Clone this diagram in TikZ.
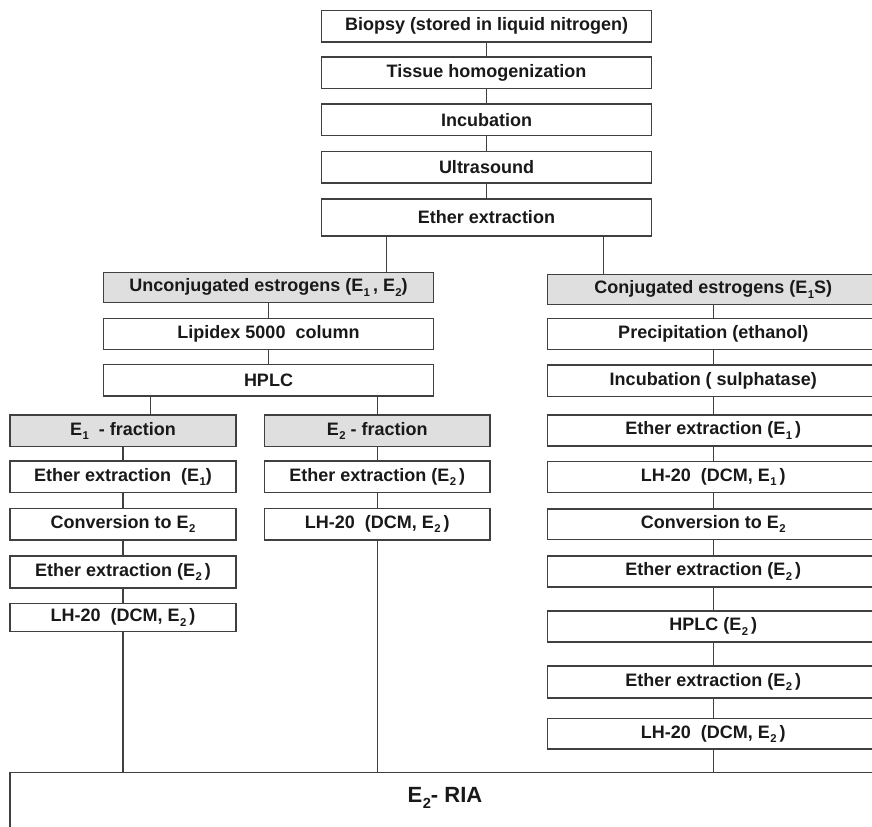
\documentclass[tikz,border=0pt]{standalone}
\usepackage{fontspec}
\setmainfont{Liberation Sans}
\usetikzlibrary{calc}

% one drawing unit = one pixel of the 872 x 827 sheet
\newcommand\flowbox[7]{%
  \node[#2, minimum width={(#5-#3)*0.75pt}, minimum height={(#6-#4)*0.75pt}]
    (#1) at ({(#3+#5)/2},{(#4+#6)/2}) {#7};}
% estrogen symbol with a dropped index
\newcommand\Esub[1]{E\kern0.3pt\raisebox{-0.45ex}{\fontsize{8.5}{9}\selectfont #1}}
\newcommand\Ebig[1]{E\kern0.3pt\raisebox{-0.55ex}{\fontsize{11}{12}\selectfont #1}}

\tikzset{
  stepbox/.style={draw=black!75, line width=1.1pt, fill=white, inner sep=0pt,
    font=\bfseries\fontsize{13.5}{16}\selectfont, text=black!90},
  groupbox/.style={stepbox, fill=gray!25},
  link/.style={draw=black!75, line width=1.1pt},
}

\begin{document}
\begin{tikzpicture}[x=0.75pt, y=-0.75pt]
\clip (0,0) rectangle (872,827);
\fill[white] (0,0) rectangle (872,827);

% common trunk
\flowbox{bio}{stepbox}{321.5}{10.5}{651.5}{42}{Biopsy (stored in liquid nitrogen)}
\flowbox{hom}{stepbox}{321.5}{57}{651.5}{88.5}{Tissue homogenization}
\flowbox{inc}{stepbox}{321.5}{104}{651.5}{135.5}{Incubation}
\flowbox{ult}{stepbox}{321.5}{151.5}{651.5}{183}{Ultrasound}
\flowbox{eth}{stepbox}{321.5}{199}{651.5}{236}{Ether extraction}

% unconjugated branch
\flowbox{unc}{groupbox}{103.5}{272.5}{433.5}{302.5}{Unconjugated estrogens (\Esub{1}\,, \Esub{2})}
\flowbox{lip}{stepbox}{103.5}{318.5}{433.5}{349.5}{Lipidex 5000~ column}
\flowbox{hplc}{stepbox}{103.5}{364.5}{433.5}{396}{HPLC}

% E1 fraction
\flowbox{fa}{groupbox}{10}{415}{236}{446.5}{\Esub{1}~ - fraction}
\flowbox{fa1}{stepbox}{10}{461}{236}{492.5}{Ether extraction~ (\Esub{1})}
\flowbox{fa2}{stepbox}{10}{508.5}{236}{540}{Conversion to \Esub{2}}
\flowbox{fa3}{stepbox}{10}{556}{236}{588}{Ether extraction (\Esub{2}\,)}
\flowbox{fa4}{stepbox}{10}{603.5}{236}{631.5}{LH-20~ (DCM, \Esub{2}\,)}

% E2 fraction
\flowbox{fb}{groupbox}{264.5}{415}{490}{446.5}{\Esub{2} - fraction}
\flowbox{fb1}{stepbox}{264.5}{461}{490}{492.5}{Ether extraction (\Esub{2}\,)}
\flowbox{fb2}{stepbox}{264.5}{508.5}{490}{540}{LH-20~ (DCM, \Esub{2}\,)}

% conjugated branch
\flowbox{con}{groupbox}{547.5}{274.5}{879}{304.5}{Conjugated estrogens (\Esub{1}S)}
\flowbox{c1}{stepbox}{547.5}{318.5}{879}{349.5}{Precipitation (ethanol)}
\flowbox{c2}{stepbox}{547.5}{365}{879}{396.5}{Incubation ( sulphatase)}
\flowbox{c3}{stepbox}{547.5}{415}{879}{446}{Ether extraction (\Esub{1}\,)}
\flowbox{c4}{stepbox}{547.5}{461.5}{879}{492.5}{LH-20~ (DCM, \Esub{1}\,)}
\flowbox{c5}{stepbox}{547.5}{509}{879}{539.5}{Conversion to \Esub{2}}
\flowbox{c6}{stepbox}{547.5}{556}{879}{587}{Ether extraction (\Esub{2}\,)}
\flowbox{c7}{stepbox}{547.5}{611}{879}{642}{HPLC (\Esub{2}\,)}
\flowbox{c8}{stepbox}{547.5}{666}{879}{698}{Ether extraction (\Esub{2}\,)}
\flowbox{c9}{stepbox}{547.5}{718.5}{879}{749}{LH-20~ (DCM, \Esub{2}\,)}

% final assay
\flowbox{ria}{stepbox}{10}{772.5}{880}{860}{}
\node[font=\bfseries\fontsize{16.5}{19}\selectfont, text=black!90] (rialabel)
  at ([yshift=-26*0.75pt]ria.north) {\Ebig{2}- RIA};

% connectors along each column
\foreach \a/\b in {bio/hom, hom/inc, inc/ult, ult/eth,
                   unc/lip, lip/hplc,
                   fa/fa1, fa1/fa2, fa2/fa3, fa3/fa4,
                   fb/fb1, fb1/fb2,
                   con/c1, c1/c2, c2/c3, c3/c4, c4/c5, c5/c6, c6/c7, c7/c8, c8/c9}
  \draw[link] (\a.south) -- (\b.north);

% branch points
\coordinate (ethL) at ($(eth.south west)!0.198!(eth.south east)$);
\coordinate (ethR) at ($(eth.south west)!0.853!(eth.south east)$);
\coordinate (hplcL) at ($(hplc.south west)!0.144!(hplc.south east)$);
\coordinate (hplcR) at ($(hplc.south west)!0.829!(hplc.south east)$);
\draw[link] (ethL) -- (ethL |- unc.north);
\draw[link] (ethR) -- (ethR |- con.north);
\draw[link] (hplcL) -- (hplcL |- fa.north);
\draw[link] (hplcR) -- (hplcR |- fb.north);

% all columns feed the assay
\draw[link] (fa4.south) -- (fa4.south |- ria.north);
\draw[link] (fb2.south) -- (fb2.south |- ria.north);
\draw[link] (c9.south) -- (c9.south |- ria.north);
\end{tikzpicture}
\end{document}
